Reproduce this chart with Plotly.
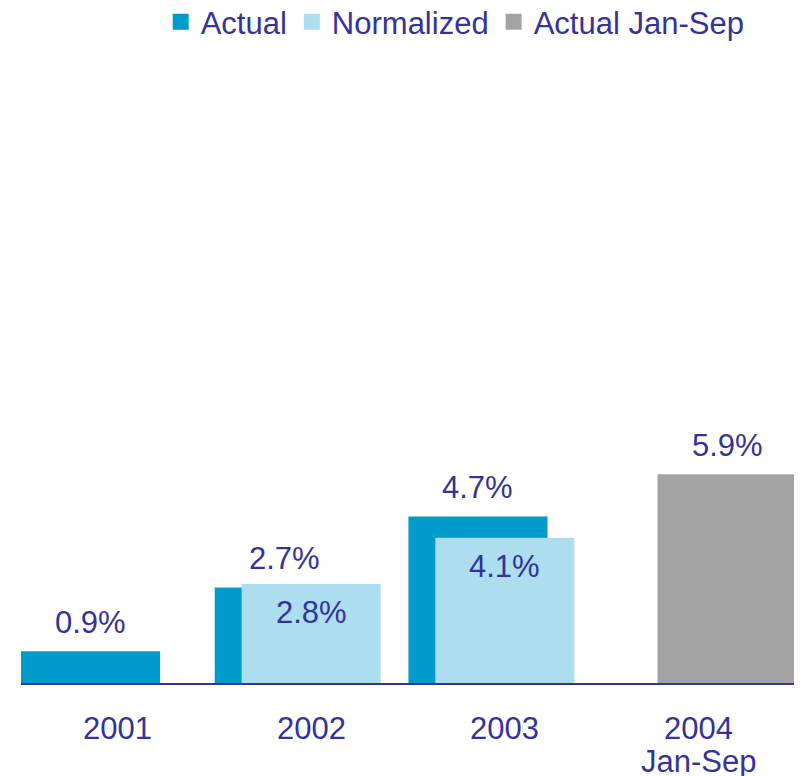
import plotly.graph_objects as go

categories = ["2001", "2002", "2003", "2004<br>Jan-Sep"]

actual_cats = ["2001", "2002", "2003"]
actual_vals = [0.9, 2.7, 4.7]

normalized_cats = ["2002", "2003"]
normalized_vals = [2.8, 4.1]

janSep_cats = ["2004<br>Jan-Sep"]
janSep_vals = [5.9]

TEXT = "#333399"
C_ACTUAL = "#009bcc"
C_NORM = "#addeef"
C_GRAY = "#a3a3a3"
FONT = "Liberation Sans, Arial, sans-serif"
FSIZE = 31

BAR_W = 0.718
ACT_SHIFT = -0.139   # actual bars sit left of the category centre
GRAY_SHIFT = 0.147   # Jan-Sep bar sits right of the category centre
PX_PER_Y = 35.4
LABEL_GAP = 29

# page body adds an 8px margin, so the figure is 8px smaller on each axis
W, H = 794, 768

fig = go.Figure()

fig.add_trace(go.Bar(
    x=actual_cats, y=actual_vals, width=BAR_W, offset=ACT_SHIFT - BAR_W / 2,
    marker=dict(color=C_ACTUAL, line_width=0), showlegend=False, hoverinfo="skip",
))
fig.add_trace(go.Bar(
    x=normalized_cats, y=normalized_vals, width=BAR_W, offset=-BAR_W / 2,
    marker=dict(color=C_NORM, line_width=0), showlegend=False, hoverinfo="skip",
))
fig.add_trace(go.Bar(
    x=janSep_cats, y=janSep_vals, width=BAR_W, offset=GRAY_SHIFT - BAR_W / 2,
    marker=dict(color=C_GRAY, line_width=0), showlegend=False, hoverinfo="skip",
))

# legend entries with larger square swatches
for name, col in [("Actual", C_ACTUAL), ("Normalized", C_NORM), ("Actual Jan-Sep", C_GRAY)]:
    fig.add_trace(go.Scatter(
        x=[None], y=[None], mode="markers", name=name,
        marker=dict(symbol="square", size=19, color=col),
    ))

annotations = []
for cat, v in zip(actual_cats, actual_vals):
    annotations.append(dict(
        x=categories.index(cat) + ACT_SHIFT, y=v, text=f"{v:.1f}%",
        yshift=LABEL_GAP, yanchor="middle",
    ))
for cat, v in zip(normalized_cats, normalized_vals):
    annotations.append(dict(
        x=categories.index(cat), y=v, text=f"{v:.1f}%",
        yshift=-LABEL_GAP, yanchor="middle",
    ))
for cat, v in zip(janSep_cats, janSep_vals):
    annotations.append(dict(
        x=categories.index(cat) + GRAY_SHIFT, y=v, text=f"{v:.1f}%",
        yshift=LABEL_GAP, yanchor="middle",
    ))
# category labels, one annotation per line so the line spacing stays tight
for i, cat in enumerate(categories):
    for j, line in enumerate(cat.split("<br>")):
        annotations.append(dict(
            x=i, y=0, text=line, yshift=-45 - 33 * j, yanchor="middle",
        ))
for a in annotations:
    a.update(xref="x", yref="y", showarrow=False,
             font=dict(size=FSIZE, color=TEXT, family=FONT))

top, bottom = 4, 93
plot_h = H - top - bottom

fig.update_layout(
    width=W,
    height=H,
    barmode="overlay",
    paper_bgcolor="white",
    plot_bgcolor="white",
    margin=dict(l=13, r=5, t=top, b=bottom, autoexpand=False),
    font=dict(family=FONT, size=FSIZE, color=TEXT),
    annotations=annotations,
    legend=dict(
        orientation="h",
        x=0.180, xanchor="left",
        y=1 - (14 - top) / plot_h, yanchor="middle",
        font=dict(size=FSIZE, color=TEXT, family=FONT),
        bgcolor="rgba(0,0,0,0)",
    ),
)
fig.update_xaxes(
    type="category",
    categoryorder="array",
    categoryarray=categories,
    range=[-0.498, 3.508],
    showline=True,
    linecolor=TEXT,
    linewidth=2,
    showgrid=False,
    ticks="",
    showticklabels=False,
    automargin=False,
)
fig.update_yaxes(
    range=[0, plot_h / PX_PER_Y],
    visible=False,
    showgrid=False,
    zeroline=False,
    automargin=False,
)

fig.write_html("out.html")
